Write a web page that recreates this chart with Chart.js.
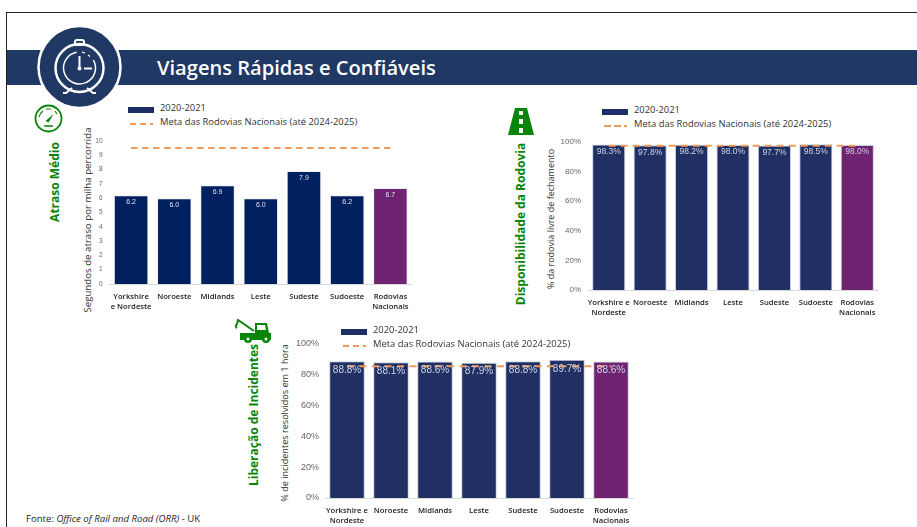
<!DOCTYPE html>
<html lang="pt">
<head>
<meta charset="utf-8">
<title>Viagens Rápidas e Confiáveis</title>
<script src="https://cdn.jsdelivr.net/npm/chart.js@4"></script>
<style>
    html, body { margin: 0; padding: 0; background: #fff; overflow: hidden; }
    body { width: 917px; height: 527px; position: relative; font-family: "Open Sans", sans-serif; }
    canvas, .abs { position: absolute; }
    #frame { left: 6px; top: 12px; width: 920px; height: 530px; border: 1px solid #222; box-sizing: border-box; }
    #band { left: 7px; top: 50px; width: 910px; height: 35px; background: #1f3864; }
    #title { left: 157px; top: 51px; line-height: 33px; font-size: 20.1px; font-weight: 600; color: #fff; white-space: nowrap; }
    .section { color: #078507; font-size: 12px; font-weight: 700; white-space: nowrap; transform: translate(-50%, -50%) rotate(-90deg); }
    .axisTitle { color: #333; white-space: nowrap; transform: translate(-50%, -50%) rotate(-90deg); }
    .legendText { font-size: 9.4px; color: #333; white-space: nowrap; line-height: 12px; }
    .swatch { height: 5.5px; }
    .dash { height: 2px; background: repeating-linear-gradient(90deg, #ed9a5a 0 6.5px, transparent 6.5px 10px); }
    #source { left: 26px; top: 512px; font-size: 9.6px; color: #222; white-space: nowrap; }
</style>
</head>
<body>
<div class="abs" id="frame"></div>
<div class="abs" id="band"></div>
<div class="abs" id="title">Viagens Rápidas e Confiáveis</div>

<!-- clock badge -->
<svg class="abs" style="left:35px;top:24px" width="90" height="88" viewBox="0 0 90 88">
    <circle cx="44.5" cy="43" r="41" fill="#1f3864" stroke="#fff" stroke-width="2.5"/>
    <g fill="none" stroke="#fff">
        <rect x="40" y="16" width="9" height="5" rx="2" stroke-width="2"/>
        <circle cx="44.5" cy="44" r="24" stroke-width="2.5"/>
        <path d="M58.4 36A16 16 0 1 1 41.7 28.2" stroke-width="1.5"/>
        <path d="M47 28.2l3 .8M53 31l2 1.5" stroke-width="1.2"/>
        <path d="M44.5 32v11M49 44.5h8" stroke-width="2"/>
        <path d="M37 64l-6 5h-3M52 64l6 5h3" stroke-width="2"/>
    </g>
    <circle cx="44.5" cy="44.5" r="2" fill="#fff"/>
</svg>

<!-- gauge -->
<svg class="abs" style="left:34px;top:104px" width="29" height="29" viewBox="0 0 29 29">
    <circle cx="14.5" cy="14.5" r="13" fill="none" stroke="#078507" stroke-width="1.8"/>
    <path d="M5 13a10 10 0 0 1 4-6M12 5h5M21 7l2 3" fill="none" stroke="#078507" stroke-width="1.2"/>
    <path d="M11.5 17l8-7-5 8.500z" fill="#078507"/>
    <path d="M10 22h9" stroke="#078507" stroke-width="1.5"/>
</svg>

<!-- road -->
<svg class="abs" style="left:508px;top:108px" width="26" height="27" viewBox="0 0 26 27">
    <path d="M7 0h12l7 27H0z" fill="#078507"/>
    <path d="M11 3h4v4h-4zM11 11h4v5h-4zM11 20h4v5h-4z" fill="#fff"/>
</svg>

<!-- tow truck -->
<svg class="abs" style="left:235px;top:319px" width="37" height="25" viewBox="0 0 37 25">
    <path d="M2 9c-2-1-1-3 0-4l1-4 16 11" fill="none" stroke="#078507" stroke-width="2"/>
    <path d="M5 14h15V4h12l2 10h2v7H5z" fill="#078507"/>
    <path d="M22 6h8l1 5h-9z" fill="#fff"/>
    <circle cx="13" cy="20" r="4" fill="#078507"/>
    <circle cx="13" cy="20" r="1.5" fill="#fff"/>
    <circle cx="31" cy="20" r="4" fill="#078507"/>
    <circle cx="31" cy="20" r="1.5" fill="#fff"/>
</svg>

<div class="abs section" style="left:54px;top:182px">Atraso Médio</div>
<div class="abs section" style="left:520px;top:224px">Disponibilidade da Rodovia</div>
<div class="abs section" style="left:253px;top:415px">Liberação de Incidentes</div>

<div class="abs axisTitle" style="left:87px;top:220px;font-size:9.7px">Segundos de atraso por milha percorrida</div>
<div class="abs axisTitle" style="left:550px;top:219px;font-size:9px">% da rodovia livre de fechamento</div>
<div class="abs axisTitle" style="left:284px;top:423px;font-size:9.1px">% de incidentes resolvidos em 1 hora</div>

<canvas id="delayChart" width="345" height="190" style="left:75px;top:130px"></canvas>
<canvas id="roadChart" width="350" height="200" style="left:535px;top:130px"></canvas>
<canvas id="clearChart" width="370" height="195" style="left:270px;top:332px"></canvas>

<div class="abs" id="source">Fonte: <i>Office of Rail and Road (ORR)</i> - UK</div>

<script>
(() => {
    'use strict';

    const barName = '2020-2021';
    const targetName = 'Meta das Rodovias Nacionais (até 2024-2025)';

    const delayRegions = [['Yorkshire', 'e Nordeste'], 'Noroeste', 'Midlands', 'Leste', 'Sudeste', 'Sudoeste', ['Rodovias', 'Nacionais']];
    const delayValues = [6.2, 6.0, 6.9, 6.0, 7.9, 6.2, 6.7];
    const delayTarget = [9.5, 9.5, 9.5, 9.5, 9.5, 9.5, 9.5];

    const otherRegions = [['Yorkshire e', 'Nordeste'], 'Noroeste', 'Midlands', 'Leste', 'Sudeste', 'Sudoeste', ['Rodovias', 'Nacionais']];
    const roadValues = [98.3, 97.8, 98.2, 98.0, 97.7, 98.5, 98.0];
    const roadTarget = [97.5, 97.5, 97.5, 97.5, 97.5, 97.5, 97.5];

    const clearValues = [88.8, 88.1, 88.6, 87.9, 88.8, 89.7, 88.6];
    const clearTarget = [85.5, 85.5, 85.5, 85.5, 85.5, 85.5, 85.5];

    const regionColors = ['a', 'a', 'a', 'a', 'a', 'a', 'b'];

    // values inside the top of each bar
    const barLabels = {
        id: 'barLabels',
        afterDatasetsDraw(chart, args, opts) {
            const c = chart.ctx;
            c.save();
            c.font = opts.size + 'px "Liberation Sans", sans-serif';
            c.fillStyle = opts.color;
            c.textAlign = 'center';
            c.textBaseline = 'middle';
            chart.getDatasetMeta(0).data.forEach((bar, i) => {
                c.fillText(opts.format(chart.data.datasets[0].data[i]), bar.x, bar.y + opts.offset);
            });
            c.restore();
        }
    };

    function makeChart(id, cfg) {
        const colors = regionColors.map(k => k === 'a' ? cfg.barColor : '#6f2371');
        // eslint-disable-next-line no-new
        new Chart(document.getElementById(id), {
            type: 'bar',
            data: {
                labels: cfg.labels,
                datasets: [{
                    label: barName,
                    data: cfg.values,
                    backgroundColor: colors,
                    borderColor: cfg.edge,
                    borderWidth: 1,
                    categoryPercentage: 1,
                    barPercentage: cfg.barPct,
                    order: 2
                }, {
                    type: 'line',
                    label: targetName,
                    data: cfg.target,
                    borderColor: '#ed9a5a',
                    borderWidth: 2,
                    borderDash: cfg.dash,
                    pointRadius: 0,
                    fill: false,
                    order: 1
                }]
            },
            options: {
                responsive: false,
                animation: false,
                layout: { padding: cfg.padding },
                plugins: {
                    legend: { display: false },
                    tooltip: { enabled: false },
                    barLabels: { size: cfg.labelSize, color: cfg.labelColor, offset: cfg.labelOffset, format: cfg.format }
                },
                scales: {
                    x: {
                        grid: { display: false, drawTicks: false },
                        border: { color: '#d9d9d9' },
                        ticks: {
                            maxRotation: 0,
                            minRotation: 0,
                            autoSkip: false,
                            padding: 7,
                            color: '#222',
                            font: { family: '"Open Sans", sans-serif', size: 7.7, weight: '600', lineHeight: 1.4 }
                        },
                        afterFit: s => { s.height = cfg.xHeight; }
                    },
                    y: {
                        min: 0,
                        max: cfg.max,
                        grid: { display: false, drawTicks: false },
                        border: { display: false },
                        ticks: {
                            stepSize: cfg.step,
                            padding: cfg.tickPad,
                            color: '#666',
                            font: { family: '"Liberation Sans", sans-serif', size: cfg.tickSize },
                            callback: cfg.tickFormat
                        },
                        afterFit: s => { s.width = cfg.yWidth; }
                    }
                }
            },
            plugins: [barLabels]
        });
    }

    const pct = v => v.toFixed(1) + '%';
    const pctTick = v => v + '%';

    makeChart('delayChart', {
        labels: delayRegions, values: delayValues, target: delayTarget,
        barColor: '#002060', edge: '#eef0f6', barPct: 0.8, max: 10, step: 1, dash: [6.5, 4.5],
        tickSize: 6.5, tickPad: 7,
        labelSize: 7, labelColor: '#dfe3ee', labelOffset: 7, format: v => v.toFixed(1), tickFormat: v => v,
        padding: { top: 10, right: 8, left: 0, bottom: 0 }, xHeight: 36, yWidth: 34.5
    });

    makeChart('roadChart', {
        labels: otherRegions, values: roadValues, target: roadTarget,
        barColor: '#203064', edge: '#c9cfe2', barPct: 0.8, max: 100, step: 20, dash: [7, 5],
        tickSize: 8, tickPad: 7,
        labelSize: 8.5, labelColor: '#cfd4e6', labelOffset: 7, format: pct, tickFormat: pctTick,
        padding: { top: 12, right: 7, left: 0, bottom: 0 }, xHeight: 40, yWidth: 53
    });

    makeChart('clearChart', {
        labels: otherRegions, values: clearValues, target: clearTarget,
        barColor: '#203064', edge: '#c9cfe2', barPct: 0.81, max: 100, step: 20, dash: [7, 5.5],
        tickSize: 9, tickPad: 6,
        labelSize: 10, labelColor: '#cfd4e6', labelOffset: 9, format: pct, tickFormat: pctTick,
        padding: { top: 12, right: 7, left: 0, bottom: 0 }, xHeight: 29, yWidth: 55
    });

    // legends sit above each plot, same two rows every time
    const legendSpots = [[128, 103], [602, 105], [341, 325]];
    legendSpots.forEach(([x, y]) => {
        const add = (cls, css, text) => {
            const el = document.createElement('div');
            el.className = 'abs ' + cls;
            el.style.cssText = css;
            if (text) el.textContent = text;
            document.body.appendChild(el);
        };
        add('swatch', `left:${x}px;top:${y + 4}px;width:26px;background:#1f2f66`);
        add('dash', `left:${x + 2}px;top:${y + 20}px;width:23px`);
        add('legendText', `left:${x + 32}px;top:${y - 1}px`, barName);
        add('legendText', `left:${x + 32}px;top:${y + 13}px`, targetName);
    });
})();
</script>
</body>
</html>
